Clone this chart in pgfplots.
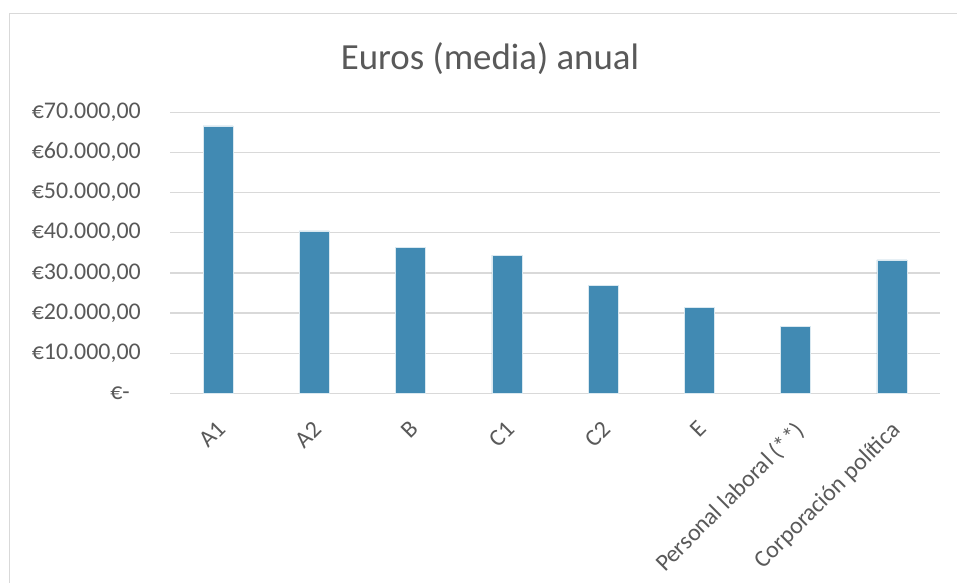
\documentclass[border=0pt]{standalone}
\usepackage{fontspec}
\setmainfont{Carlito}
\usepackage{pgfplots}
\pgfplotsset{compat=1.18}
\definecolor{barc}{HTML}{418AB3}
\definecolor{txt}{HTML}{595959}
\definecolor{gridc}{HTML}{D9D9D9}
\begin{document}
\begin{tikzpicture}[x=1bp,y=1bp]
\path[use as bounding box] (0,0) rectangle (957,583);
\fill[white] (0,0) rectangle (957,583);
\draw[gridc, line width=1.3bp] (9.5,-5) -- (9.5,569.5) -- (970,569.5);
\node[anchor=base, text=txt, font=\fontsize{37}{40}\selectfont, inner sep=0pt] at (490,513) {Euros (media) anual};
\begin{axis}[
  at={(170bp,189.7bp)}, anchor=south west,
  scale only axis, width=770bp, height=281bp,
  xmin=-0.5, xmax=7.5, ymin=0, ymax=70000,
  scaled y ticks=false,
  axis line style={draw=none},
  major tick length=0pt,
  ymajorgrids, grid style={gridc, line width=1.3bp},
  ytick={0,10000,20000,30000,40000,50000,60000,70000},
  yticklabels={{€-\hspace*{11bp}}, {€10.000,00}, {€20.000,00}, {€30.000,00}, {€40.000,00}, {€50.000,00}, {€60.000,00}, {€70.000,00}},
  yticklabel style={font=\fontsize{24}{26}\selectfont, text=txt, anchor=east, inner sep=0pt, xshift=-29bp},
  xtick={0,1,2,3,4,5,6,7},
  xticklabels={A1, A2, B, C1, C2, E, Personal laboral (**), Corporación política},
  xticklabel style={font=\fontsize{24}{26}\selectfont, text=txt, rotate=45, anchor=north east, inner sep=0pt, xshift=-20bp, yshift=-17bp},
  ybar, bar width=30bp,
  clip=false,
]
\addplot[fill=barc, draw=white!80!barc, line width=0.6bp] coordinates {
(0,66600) (1,40430) (2,36280) (3,34450) (4,26900) (5,21420) (6,16600) (7,33210)};
\end{axis}
\end{tikzpicture}
\end{document}
